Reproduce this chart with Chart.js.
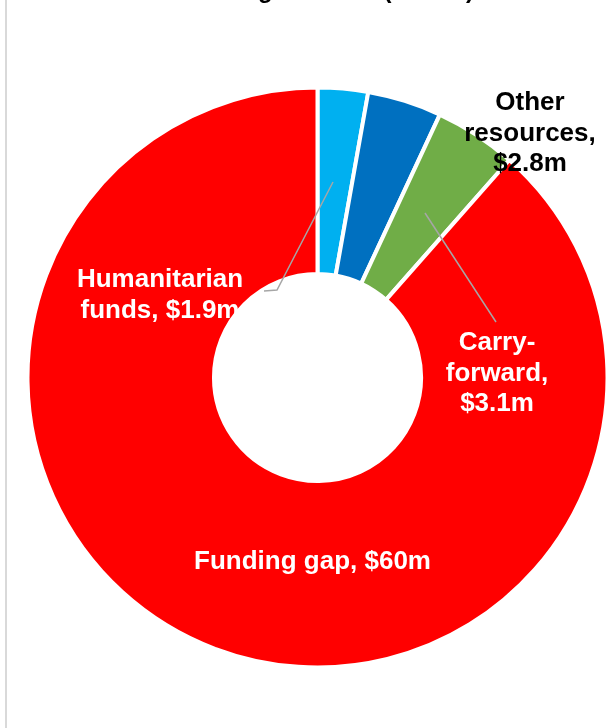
<!DOCTYPE html>
<html>
<head>
  <title>Funding received</title>
  <script src="https://cdn.jsdelivr.net/npm/chart.js@4"></script>
  <style>
    body { margin: 0; background: #fff; }
    #wrap { position: relative; width: 612px; height: 728px; overflow: hidden; }
    #edge { position: absolute; left: 5px; top: 0; width: 2px; height: 728px; background: #d9d9d9; }
    #myChart { position: absolute; left: 0; top: 0; }
  </style>
</head>
<body>
<div id="wrap">
  <div id="edge"></div>
  <canvas id="myChart" width="612" height="728"></canvas>
</div>

<script>
// Data (US$ m), clockwise from 12 o'clock
const categories = ['Humanitarian funds', 'Other resources', 'Carry-forward', 'Funding gap'];
const amounts = [1.9, 2.8, 3.1, 60];
const colours = ['#00B0F0', '#0070C0', '#70AD47', '#FF0000'];
const labelLines = [
  ['Humanitarian', 'funds, $1.9m'],
  ['Other', 'resources,', '$2.8m'],
  ['Carry-', 'forward,', '$3.1m'],
  ['Funding gap, $60m']
];
// title sits mostly above the visible area, only the descenders show
const titleText = 'Funding received (in US$)';

// label placement, offsets from the centre for a 288px ring
const labelSpots = [
  { dx: -157.5, dy: -90.5, colour: '#fff', leader: [[15.5, -195.5], [-40.5, -87.5], [-53.5, -86.5]] },
  { dx: 212.5, dy: -267.5, colour: '#000', leader: null },
  { dx: 179.5, dy: -27.5, colour: '#fff', leader: [[107.5, -164.5], [178.5, -55.5]] },
  { dx: -5, dy: 191.5, colour: '#fff', leader: null }
];

const FONT = 'bold 26px "Liberation Sans", Arial, sans-serif';

const labelPlugin = {
  id: 'sliceLabels',
  afterDatasetsDraw(chart) {
    const ctx = chart.ctx;
    const arc = chart.getDatasetMeta(0).data[0];
    const cx = arc.x, cy = arc.y;
    const s = (arc.outerRadius - 2) / 288;

    ctx.save();
    // leader lines
    ctx.strokeStyle = '#A6A6A6';
    ctx.lineWidth = 1.5;
    labelSpots.forEach(spot => {
      if (!spot.leader) return;
      ctx.beginPath();
      spot.leader.forEach((p, i) => {
        const x = cx + p[0] * s, y = cy + p[1] * s;
        if (i === 0) ctx.moveTo(x, y); else ctx.lineTo(x, y);
      });
      ctx.stroke();
    });

    // texts
    ctx.font = FONT;
    ctx.textAlign = 'center';
    ctx.textBaseline = 'alphabetic';
    labelSpots.forEach((spot, i) => {
      ctx.fillStyle = spot.colour;
      labelLines[i].forEach((line, j) => {
        ctx.fillText(line, cx + spot.dx * s, cy + spot.dy * s + j * 30.5);
      });
    });

    // cropped title
    ctx.fillStyle = '#000';
    ctx.font = 'bold 24px "Liberation Sans", Arial, sans-serif';
    ctx.textAlign = 'left';
    const startX = 258 - ctx.measureText('Fundin').width;
    ctx.fillText(titleText, startX, -2);
    ctx.restore();
  }
};

const myChart = new Chart(document.getElementById('myChart'), {
  type: 'doughnut',
  data: {
    labels: categories,
    datasets: [{
      data: amounts,
      backgroundColor: colours,
      borderColor: '#ffffff',
      borderWidth: 4
    }]
  },
  options: {
    responsive: false,
    animation: false,
    cutout: '35.7%',
    layout: { padding: { left: 25.5, right: 2.5, top: 85.5, bottom: 58.5 } },
    plugins: {
      legend: { display: false },
      tooltip: { enabled: false }
    }
  },
  plugins: [labelPlugin]
});
</script>
</body>
</html>
